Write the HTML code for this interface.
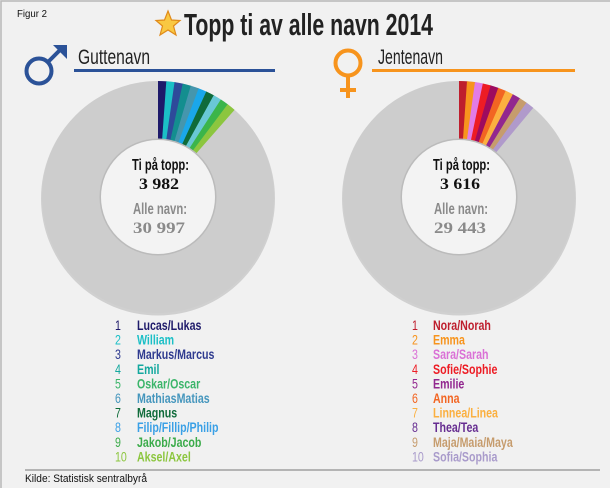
<!DOCTYPE html>
<html><head><meta charset="utf-8"><style>
body{margin:0;background:#f1f1f1;}
svg{display:block;}
</style></head><body>
<svg id="s" width="610" height="488" xmlns="http://www.w3.org/2000/svg" font-family="Liberation Sans, sans-serif">
<rect x="0" y="0" width="610" height="488" fill="#f1f1f1"/>
<rect x="1" y="1" width="620" height="500" fill="none" stroke="#b8b8b8" stroke-width="1.5"/>
<text x="17" y="17" font-size="10" fill="#111" textLength="30" lengthAdjust="spacingAndGlyphs">Figur 2</text>
<!-- star -->
<polygon points="168,11 171.5,20 180,20.5 173.5,26 176,35 168,30 160,35 162.5,26 156,20.5 164.5,20" fill="#f9c842" stroke="#e08a1a" stroke-width="1.2"/>
<text x="184" y="35" font-size="31" font-weight="bold" fill="#222" textLength="249" lengthAdjust="spacingAndGlyphs">Topp ti av alle navn 2014</text>
<!-- male -->
<circle cx="39" cy="71" r="12.5" fill="none" stroke="#2b5298" stroke-width="4"/>
<line x1="48" y1="62" x2="61" y2="49" stroke="#2b5298" stroke-width="4"/>
<polygon points="53,45 67,45 67,59" fill="#2b5298"/>
<text x="78" y="64" font-size="21" fill="#222" textLength="72" lengthAdjust="spacingAndGlyphs">Guttenavn</text>
<rect x="74" y="69" width="201" height="3" fill="#2b5298"/>
<!-- female -->
<circle cx="348" cy="63" r="12.5" fill="none" stroke="#f7941d" stroke-width="4"/>
<line x1="348" y1="75" x2="348" y2="98" stroke="#f7941d" stroke-width="4"/>
<line x1="340" y1="90" x2="356" y2="90" stroke="#f7941d" stroke-width="4"/>
<text x="378" y="64" font-size="21" fill="#222" textLength="65" lengthAdjust="spacingAndGlyphs">Jentenavn</text>
<rect x="372" y="69" width="203" height="3" fill="#f7941d"/>
<g id="d1"></g><g id="d2"></g>
<!-- center texts -->
<g>
<text x="132" y="170" font-size="16" font-weight="bold" fill="#111" textLength="57" lengthAdjust="spacingAndGlyphs">Ti på topp:</text>
<text x="139" y="189" font-family="Liberation Serif,serif" font-size="16" font-weight="bold" fill="#111" textLength="40" lengthAdjust="spacingAndGlyphs">3 982</text>
<text x="133" y="214" font-size="16" font-weight="bold" fill="#8a8a8a" textLength="54" lengthAdjust="spacingAndGlyphs">Alle navn:</text>
<text x="133" y="233" font-family="Liberation Serif,serif" font-size="16" font-weight="bold" fill="#8a8a8a" textLength="52" lengthAdjust="spacingAndGlyphs">30 997</text>
<text x="433" y="170" font-size="16" font-weight="bold" fill="#111" textLength="57" lengthAdjust="spacingAndGlyphs">Ti på topp:</text>
<text x="440" y="189" font-family="Liberation Serif,serif" font-size="16" font-weight="bold" fill="#111" textLength="40" lengthAdjust="spacingAndGlyphs">3 616</text>
<text x="434" y="214" font-size="16" font-weight="bold" fill="#8a8a8a" textLength="54" lengthAdjust="spacingAndGlyphs">Alle navn:</text>
<text x="434" y="233" font-family="Liberation Serif,serif" font-size="16" font-weight="bold" fill="#8a8a8a" textLength="52" lengthAdjust="spacingAndGlyphs">29 443</text>
</g>
<g transform="scale(0.76,1)"><g id="leg" font-size="14" font-weight="bold"></g></g>
<line x1="25" y1="470" x2="600" y2="470" stroke="#777" stroke-width="1"/>
<text x="25" y="482" font-size="11" fill="#111" textLength="122" lengthAdjust="spacingAndGlyphs">Kilde: Statistisk sentralbyrå</text>
</svg>
<script>
var NS="http://www.w3.org/2000/svg";
function el(t,a,p){var e=document.createElementNS(NS,t);for(var k in a)e.setAttribute(k,a[k]);p.appendChild(e);return e;}
function pt(cx,cy,r,a){a=a*Math.PI/180;return [cx+r*Math.sin(a),cy-r*Math.cos(a)];}
function donut(g,cx,cy,cols,step){
 el("circle",{cx:cx,cy:cy+1.5,r:117,fill:"#b0b0b0",opacity:"0.5"},g);
 el("circle",{cx:cx,cy:cy,r:116,fill:"#cdcdcd"},g);
 var R=116,r=57;
 cols.forEach(function(c,i){
  var a0=i*step,a1=(i+1)*step+0.3;
  var p1=pt(cx,cy,R,a0),p2=pt(cx,cy,R,a1),p3=pt(cx,cy,r,a1),p4=pt(cx,cy,r,a0);
  el("path",{d:"M"+p1+" A"+R+","+R+" 0 0 1 "+p2+" L"+p3+" A"+r+","+r+" 0 0 0 "+p4+"Z",fill:c},g);
 });
 el("circle",{cx:cx,cy:cy,r:58.5,fill:"#bbb"},g);
 el("circle",{cx:cx,cy:cy,r:57,fill:"#f3f3f3"},g);
}
var bc=["#1e1a6a","#1bbfc6","#2e4a9a","#138e8f","#4596ad","#1aa7ea","#0f6b3a","#69c8d6","#3bb54a","#8cc63f"];
var gc=["#be1e2d","#f7941d","#e27ce6","#ed1c24","#9e0b5f","#f26522","#fbb040","#92278f","#c69c6d","#b09acb"];
donut(document.getElementById("d1"),158,197,bc,4.1);
donut(document.getElementById("d2"),459,197,gc,3.95);
var bn=["Lucas/Lukas","William","Markus/Marcus","Emil","Oskar/Oscar","MathiasMatias","Magnus","Filip/Fillip/Philip","Jakob/Jacob","Aksel/Axel"];
var bl=["#1e1a6a","#1bbfc6","#2e3a8f","#13a89e","#3bb56a","#4596bd","#0f6b3a","#3aa0e6","#3bab4a","#8cc63f"];
var gn=["Nora/Norah","Emma","Sara/Sarah","Sofie/Sophie","Emilie","Anna","Linnea/Linea","Thea/Tea","Maja/Maia/Maya","Sofia/Sophia"];
var gl=["#be1e2d","#f7941d","#da70d6","#ed1c24","#92278f","#f26522","#fbb040","#662d91","#c69c6d","#a99bcb"];
var L=document.getElementById("leg"),k=0.76;
for(var i=0;i<10;i++){
 var y=330+i*14.6;
 el("text",{x:115/k,y:y,fill:bl[i],"font-weight":"normal"},L).textContent=(i+1);
 el("text",{x:137/k,y:y,fill:bl[i]},L).textContent=bn[i];
 el("text",{x:412/k,y:y,fill:gl[i],"font-weight":"normal"},L).textContent=(i+1);
 el("text",{x:433/k,y:y,fill:gl[i]},L).textContent=gn[i];
}
</script>
</body></html>
